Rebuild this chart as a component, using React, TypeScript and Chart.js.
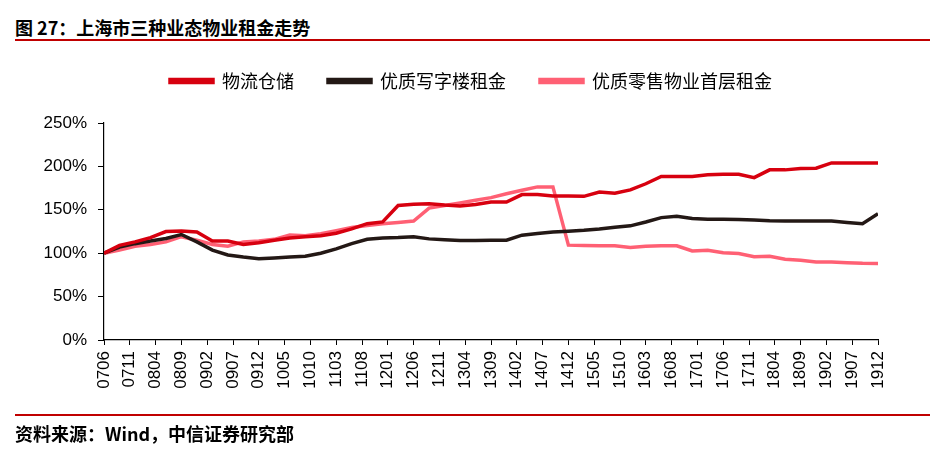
import React, { useEffect, useRef } from 'react';
import { Chart, registerables } from 'chart.js';

Chart.register(...registerables);

const quarters = [
  '0706', '0709', '0712', '0803', '0806', '0809', '0812', '0903', '0906', '0909',
  '0912', '1003', '1006', '1009', '1012', '1103', '1106', '1109', '1112', '1203',
  '1206', '1209', '1212', '1303', '1306', '1309', '1312', '1403', '1406', '1409',
  '1412', '1503', '1506', '1509', '1512', '1603', '1606', '1609', '1612', '1703',
  '1706', '1709', '1712', '1803', '1806', '1809', '1812', '1903', '1906', '1909',
  '1912',
];

const logistics = [
  100, 109, 113, 118, 125, 125.5, 124.5, 114, 114, 110,
  112, 115, 117.5, 119, 120, 123, 128, 134, 136, 155,
  156.5, 157, 155.5, 154.5, 156, 159, 159, 167.5, 167.5, 166,
  166, 165.5, 170.5, 169, 173, 180, 188.5, 188.5, 188.5, 190.5,
  191, 191, 187, 196, 196, 197.5, 198, 204, 204, 204,
  204,
];

const office = [
  100, 107, 111, 114, 117, 121.5, 113, 103.5, 98, 95.5,
  93.5, 94.5, 95.5, 96.6, 100, 105, 111, 116, 117.5, 118,
  119, 116.5, 115.5, 114.7, 114.7, 115, 115, 120.8, 122.7, 124.5,
  125.4, 126.5, 128, 130, 131.5, 136, 141, 142.5, 140, 139,
  139, 138.8, 138.3, 137.5, 137.2, 137, 137, 137, 135.5, 134,
  145.5,
];

const retail = [
  100, 103.5, 108, 110, 113, 119, 115, 110, 108, 113,
  114, 116, 121, 120, 122.5, 126, 129.5, 132, 134, 135.5,
  137, 152, 155, 158, 161, 164, 168.5, 172.5, 176.4, 176.4,
  109.3, 109, 108.5, 108.5, 106.6, 108, 108.5, 108.5, 102.5, 103.5,
  100.5, 99.7, 96, 96.5, 93, 92, 90, 90, 89, 88.3,
  88,
];

const tickLabels = [
  '0706', '0711', '0804', '0809', '0902', '0907', '0912', '1005', '1010', '1103',
  '1108', '1201', '1206', '1211', '1304', '1309', '1402', '1407', '1412', '1505',
  '1510', '1603', '1608', '1701', '1706', '1711', '1804', '1809', '1902', '1907',
  '1912',
];

const seriesNames = ['物流仓储', '优质写字楼租金', '优质零售物业首层租金'];
const seriesColors = ['#D7000F', '#231815', '#FF6074'];
const yTicks = [0, 50, 100, 150, 200, 250];

const titleText = '图 27：上海市三种业态物业租金走势';
const sourceText = '资料来源：Wind，中信证券研究部';

const monthIndex = (code: string) => {
  const yy = parseInt(code.slice(0, 2), 10);
  const mm = parseInt(code.slice(2), 10);
  return (yy - 7) * 12 + (mm - 6);
};

const toPoints = (values: number[]) =>
  values.map((v, i) => ({ x: monthIndex(quarters[i]), y: v }));

const LEGEND_H = 85;
const LEGEND_LEFT = 64;

export default function App() {
  const canvasRef = useRef<HTMLCanvasElement | null>(null);

  useEffect(() => {
    const canvas = canvasRef.current;
    if (!canvas) return;
    const allSeries = [logistics, office, retail];
    const legendFix = {
      id: 'legendFix',
      beforeInit(chart: any) {
        const leg = chart.legend;
        if (!leg) return;
        const orig = leg.fit;
        leg.fit = function () {
          orig.call(this);
          this.height = LEGEND_H;
        };
      },
      afterLayout(chart: any) {
        const leg = chart.legend;
        if (!leg) return;
        leg.left = LEGEND_LEFT;
        leg.right = chart.chartArea.right;
        leg.width = leg.right - leg.left;
      },
    };
    const chart = new Chart(canvas, {
      type: 'line',
      data: {
        datasets: allSeries.map((vals, i) => ({
          label: seriesNames[i],
          data: toPoints(vals),
          borderColor: seriesColors[i],
          backgroundColor: seriesColors[i],
          borderWidth: 3.5,
          pointRadius: 0,
          tension: 0,
          fill: false,
        })),
      },
      options: {
        animation: false,
        responsive: false,
        maintainAspectRatio: false,
        layout: { padding: { top: 38, left: 0, right: 67, bottom: 0 } },
        plugins: {
          tooltip: { enabled: false },
          legend: {
            position: 'top',
            labels: {
              boxWidth: 43,
              boxHeight: 3,
              padding: 34,
              color: '#000',
              font: { size: 18, family: '"Noto Sans CJK SC", "Noto Sans", sans-serif' },
            },
          },
        },
        scales: {
          x: {
            type: 'linear',
            min: 0,
            max: monthIndex(tickLabels[tickLabels.length - 1]),
            afterFit(scale: any) {
              scale.height = 119;
            },
            afterBuildTicks(scale: any) {
              scale.ticks = tickLabels.map((l) => ({ value: monthIndex(l) }));
            },
            ticks: {
              autoSkip: false,
              maxRotation: 90,
              minRotation: 90,
              padding: 6,
              color: '#000',
              font: { size: 17, family: '"Liberation Sans", Arial, sans-serif' },
              callback: (value: any) => {
                const l = tickLabels.find((t) => monthIndex(t) === Number(value));
                return l ?? '';
              },
            },
            grid: { display: true, drawOnChartArea: false, drawTicks: true, tickLength: 5, color: '#000' },
            border: { display: true, color: '#000', width: 1.2 },
          },
          y: {
            min: yTicks[0],
            max: yTicks[yTicks.length - 1],
            afterFit(scale: any) {
              scale.width = 104;
            },
            afterBuildTicks(scale: any) {
              scale.ticks = yTicks.map((v) => ({ value: v }));
            },
            ticks: {
              padding: 11,
              color: '#000',
              font: { size: 17, family: '"Liberation Sans", Arial, sans-serif' },
              callback: (value: any) => `${value}%`,
            },
            grid: { display: true, drawOnChartArea: false, drawTicks: true, tickLength: 6, color: '#000' },
            border: { display: true, color: '#000', width: 1.2 },
          },
        },
      },
      plugins: [legendFix],
    } as any);
    return () => chart.destroy();
  }, []);

  const textFont = '"Noto Sans CJK SC", "Noto Sans", sans-serif';

  return (
    <div style={{ position: 'absolute', left: 0, top: 0, width: 945, height: 459, background: '#fff', overflow: 'hidden' }}>
      <div style={{ position: 'absolute', left: 15, top: 17, fontFamily: textFont, fontWeight: 700, fontSize: 18, lineHeight: '20px', color: '#000', whiteSpace: 'nowrap' }}>
        {titleText}
      </div>
      <div style={{ position: 'absolute', left: 15, top: 39, width: 915, height: 2, background: '#C00000' }} />
      <canvas ref={canvasRef} width={945} height={459} style={{ position: 'absolute', left: 0, top: 0, width: 945, height: 459 }} />
      <div style={{ position: 'absolute', left: 15, top: 414, width: 915, height: 2, background: '#C00000' }} />
      <div style={{ position: 'absolute', left: 15, top: 423, fontFamily: textFont, fontWeight: 700, fontSize: 18, lineHeight: '20px', color: '#000', whiteSpace: 'nowrap' }}>
        {sourceText}
      </div>
    </div>
  );
}
